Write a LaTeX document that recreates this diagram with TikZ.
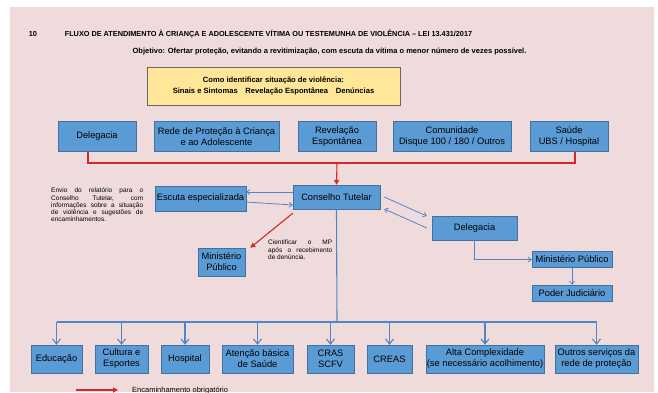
\documentclass[tikz,border=0pt]{standalone}
\usepackage{fontspec}
\setmainfont{Liberation Sans}
\usetikzlibrary{arrows.meta}
\definecolor{fundo}{RGB}{239,219,219}
\definecolor{caixa}{RGB}{91,155,213}
\definecolor{borda}{RGB}{65,113,156}
\definecolor{seta}{RGB}{84,132,200}
\definecolor{vermelho}{RGB}{214,40,40}
\definecolor{amarelo}{RGB}{255,230,153}

\begin{document}
\begin{tikzpicture}[x=1pt,y=-1pt,
	azul/.style={draw=seta, line width=1.1pt},
	fina/.style={draw=seta, line width=0.8pt},
	vermelha/.style={draw=vermelho, line width=1.1pt},
	nota/.style={align=left, inner sep=0pt, font=\fontsize{6.5}{7.2}\selectfont}]
	\useasboundingbox (0,0) rectangle (658,392);
	\fill[fundo] (10,7) rectangle (654,392);
	\node[font=\bfseries\fontsize{7.3}{8}\selectfont] (pagina) at (33,34) {10};
	\node[font=\bfseries\fontsize{7.3}{8}\selectfont] (titulo) at (268.5,34) {FLUXO DE ATENDIMENTO À CRIANÇA E ADOLESCENTE VÍTIMA OU TESTEMUNHA DE VIOLÊNCIA – LEI 13.431/2017};
	\node[font=\bfseries\fontsize{7.5}{8}\selectfont] (objetivo) at (329.5,52) {Objetivo: Ofertar proteção, evitando a revitimização, com escuta da vítima o menor número de vezes possível.};
	\node[draw=black!60, fill=amarelo, minimum width=253, minimum height=38, align=center, font=\bfseries\fontsize{7.6}{11}\selectfont] (identificar) at (273.5,86) {Como identificar situação de violência:\\Sinais e Sintomas\quad Revelação Espontânea\quad Denúncias};
	\begin{scope}[every node/.style={draw=borda, fill=caixa, align=center, inner sep=1pt, font=\fontsize{9.3}{11}\selectfont}]
		\node[minimum width=78, minimum height=30] (delegacia) at (97,136.5) {Delegacia};
		\node[minimum width=125, minimum height=30] (rede) at (216.5,136.5) {Rede de Proteção à Criança\\e ao Adolescente};
		\node[minimum width=78, minimum height=30] (revelacao) at (337,136.5) {Revelação\\Espontânea};
		\node[minimum width=118, minimum height=30] (comunidade) at (452,136.5) {Comunidade\\Disque 100 / 180 / Outros};
		\node[minimum width=78, minimum height=30] (saude) at (569,136.5) {Saúde\\UBS / Hospital};
		\node[minimum width=87, minimum height=24] (conselho) at (336.5,197) {Conselho Tutelar};
		\node[minimum width=91, minimum height=25] (escuta) at (200.5,198.5) {Escuta especializada};
		\node[minimum width=47, minimum height=28] (mpesq) at (221.5,262) {Ministério\\Público};
		\node[minimum width=85, minimum height=24] (delegacia2) at (474.5,228) {Delegacia};
		\node[minimum width=80, minimum height=16] (mpdir) at (572,259.5) {Ministério Público};
		\node[minimum width=80, minimum height=16] (judiciario) at (572,293) {Poder Judiciário};
		\node[minimum width=51, minimum height=28] (educacao) at (56.5,359) {Educação};
		\node[minimum width=53, minimum height=28] (cultura) at (121.5,359) {Cultura e\\Esportes};
		\node[minimum width=48, minimum height=28] (hospital) at (185,359) {Hospital};
		\node[minimum width=71, minimum height=28] (atencao) at (257.5,359) {Atenção básica\\de Saúde};
		\node[minimum width=47, minimum height=28] (cras) at (330.5,359) {CRAS\\SCFV};
		\node[minimum width=45, minimum height=28] (creas) at (389.5,359) {CREAS};
		\node[minimum width=116, minimum height=28] (alta) at (485,359) {Alta Complexidade\\(se necessário acolhimento)};
		\node[minimum width=83, minimum height=28] (outros) at (596.5,359) {Outros serviços da\\rede de proteção};
	\end{scope}
	\node[nota, anchor=north west] (envio) at (51,188) {\makebox[92pt][s]{Envio do relatório para o}\\\makebox[92pt][s]{Conselho Tutelar, com}\\\makebox[92pt][s]{informações sobre a situação}\\\makebox[92pt][s]{de violência e sugestões de}\\encaminhamentos.};
	\node[nota, anchor=north west] (cientificar) at (268,240) {\makebox[64pt][s]{Cientificar o MP}\\\makebox[64pt][s]{após o recebimento}\\de denúncia.};
	\coordinate (juncao) at (337,163);
	\coordinate (tronco) at (337,322);
	\coordinate (legini) at (76,390);
	\coordinate (legfim) at (118,390);
	\node[anchor=west, inner sep=0pt, font=\fontsize{7.5}{9}\selectfont] (legenda) at (132,390.5) {Encaminhamento obrigatório};
	\begin{scope}[>={Triangle[length=5pt,width=5pt]}]
		\draw[vermelha] ([xshift=-9pt]delegacia.south) |- ([xshift=6pt]saude.south |- juncao) -- ([xshift=6pt]saude.south);
		\draw[vermelha,->] (juncao) -- (conselho.north);
		\draw[vermelha,->] ([yshift=-4pt]conselho.south west) -- ([xshift=5pt]mpesq.north east);
		\draw[vermelha,->] (legini) -- (legfim);
	\end{scope}
	\begin{scope}[>={Straight Barb[length=3pt,width=5pt]}]
		\draw[fina,->] ([yshift=5pt]conselho.west) -- ([yshift=5pt]conselho.west -| escuta.east);
		\draw[fina,->] ([yshift=-3.5pt]escuta.east) -- ([yshift=-8pt]conselho.west);
		\draw[fina,->] ([xshift=4pt]conselho.east) -- ([xshift=-5pt,yshift=12pt]delegacia2.west);
		\draw[fina,->] ([xshift=-5pt]delegacia2.west) -- ([xshift=4pt,yshift=-12pt]conselho.east);
		\draw[fina,->] (delegacia2.south) |- (mpdir.west);
		\draw[fina,->] (mpdir.south) -- (judiciario.north);
	\end{scope}
	\begin{scope}[>={Straight Barb[length=5pt,width=8pt]}]
		\draw[azul] (conselho.south) -- (tronco);
		\draw[azul] (educacao |- tronco) -- (outros |- tronco);
		\foreach \destino in {educacao,cultura,hospital,atencao,cras,creas,alta,outros}
			\draw[azul,->] (\destino |- tronco) -- (\destino.north);
	\end{scope}
\end{tikzpicture}
\end{document}
